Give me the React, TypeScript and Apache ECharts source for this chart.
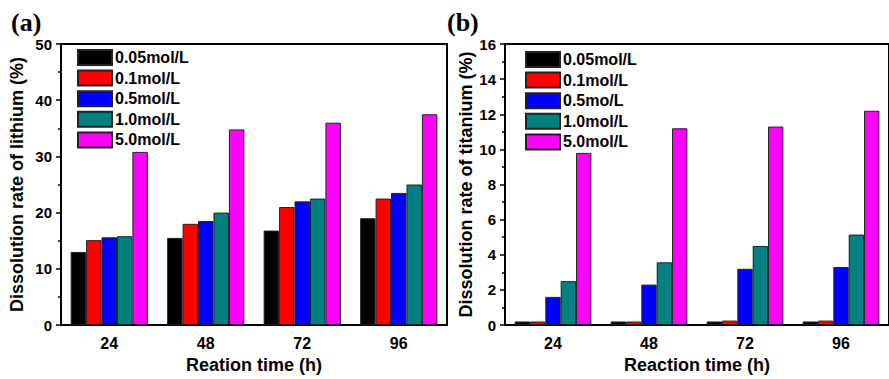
import React, { useEffect, useRef } from "react";
import * as echarts from "echarts";

const categories = ["24", "48", "72", "96"];
const namesA = ["0.05mol/L", "0.1mol/L", "0.5mol/L", "1.0mol/L", "5.0mol/L"];
const namesB = ["0.05mol/L", "0.1mol/L", "0.5mo/L", "1.0mol/L", "5.0mol/L"];
const colors = ["#000000", "#ff0000", "#0000ff", "#008080", "#ff00ff"];

// (a) lithium dissolution rate (%)
const li005 = [13.0, 15.5, 16.8, 19.0];
const li01 = [15.1, 18.0, 21.0, 22.5];
const li05 = [15.6, 18.5, 22.0, 23.5];
const li10 = [15.8, 20.0, 22.5, 25.0];
const li50 = [30.8, 34.8, 36.0, 37.5];

// (b) titanium dissolution rate (%)
const ti005 = [0.2, 0.2, 0.2, 0.2];
const ti01 = [0.2, 0.2, 0.25, 0.25];
const ti05 = [1.6, 2.3, 3.2, 3.3];
const ti10 = [2.5, 3.57, 4.5, 5.15];
const ti50 = [9.8, 11.2, 11.3, 12.2];

const liSeries = [li005, li01, li05, li10, li50];
const tiSeries = [ti005, ti01, ti05, ti10, ti50];

const FONT = "'Liberation Sans', Arial, sans-serif";

export default function App() {
  const ref = useRef<HTMLDivElement>(null);
  useEffect(() => {
    if (!ref.current) return;
    const chart = echarts.init(ref.current, undefined, { renderer: "svg" });
    const axisText = { color: "#000", fontFamily: FONT, fontWeight: "bold" as const, fontSize: 15 };
    const nameText = { color: "#000", fontFamily: FONT, fontWeight: "bold" as const, fontSize: 18 };
    const xAxisBase = (gridIndex: number, name: string) => ({
      type: "category" as const,
      gridIndex,
      data: categories,
      name,
      nameLocation: "middle" as const,
      nameGap: 31,
      nameTextStyle: nameText,
      axisLine: { lineStyle: { color: "#000", width: 2 } },
      axisTick: { show: false },
      axisLabel: { ...axisText, fontSize: 16, margin: 10 },
      splitLine: { show: false },
    });
    const yAxisBase = (gridIndex: number, name: string, max: number, interval: number, nameGap: number) => ({
      type: "value" as const,
      gridIndex,
      min: 0,
      max,
      interval,
      name,
      nameLocation: "middle" as const,
      nameGap,
      nameTextStyle: nameText,
      axisLine: { show: true, lineStyle: { color: "#000", width: 2 } },
      axisTick: { show: true, length: 5, lineStyle: { color: "#000", width: 1.5 } },
      minorTick: { show: true, splitNumber: 2, length: 3, lineStyle: { color: "#000", width: 1.5 } },
      axisLabel: { ...axisText, margin: 9 },
      splitLine: { show: false },
      minorSplitLine: { show: false },
    });
    const mkSeries = (data: number[][], names: string[], axisIndex: number) =>
      data.map((d, i) => ({
        type: "bar" as const,
        name: names[i],
        xAxisIndex: axisIndex,
        yAxisIndex: axisIndex,
        data: d,
        barGap: "0%",
        barCategoryGap: "20%",
        itemStyle: { color: colors[i], borderColor: "#222", borderWidth: 1 },
      }));
    const legendBase = (left: number, top: number, names: string[]) => ({
      orient: "vertical" as const,
      left,
      top,
      data: names,
      icon: "rect",
      itemWidth: 34,
      itemHeight: 15,
      itemGap: 3.6,
      padding: 0,
      selectedMode: false,
      textStyle: { color: "#000", fontFamily: FONT, fontWeight: "bold" as const, fontSize: 16, padding: [0, 0, 0, -2] },
    });
    chart.setOption({
      animation: false,
      backgroundColor: "#fff",
      grid: [
        { left: 61, top: 44, width: 386, height: 287, show: true, borderColor: "#000", borderWidth: 2, backgroundColor: "transparent" },
        { left: 505, top: 44, width: 386, height: 287, show: true, borderColor: "#000", borderWidth: 2, backgroundColor: "transparent" },
      ],
      xAxis: [xAxisBase(0, "Reation time (h)"), xAxisBase(1, "Reaction time (h)")],
      yAxis: [
        yAxisBase(0, "Dissolution rate of lithium (%)", 50, 10, 35),
        yAxisBase(1, "Dissolution rate of titanium (%)", 16, 2, 29),
      ],
      legend: [legendBase(77, 49, namesA), legendBase(525, 51, namesB)],
      series: [...mkSeries(liSeries, namesA, 0), ...mkSeries(tiSeries, namesB, 1)],
      graphic: [
        {
          type: "text",
          left: 11,
          top: 9,
          style: { text: "(a)", fill: "#000", font: "bold 26px 'Liberation Serif', 'Times New Roman', serif" },
        },
        {
          type: "text",
          left: 447,
          top: 9,
          style: { text: "(b)", fill: "#000", font: "bold 26px 'Liberation Serif', 'Times New Roman', serif" },
        },
      ],
    });
    return () => chart.dispose();
  }, []);
  return (
    <div
      ref={ref}
      style={{ position: "fixed", left: 0, top: 0, width: 889, height: 379 }}
    />
  );
}
